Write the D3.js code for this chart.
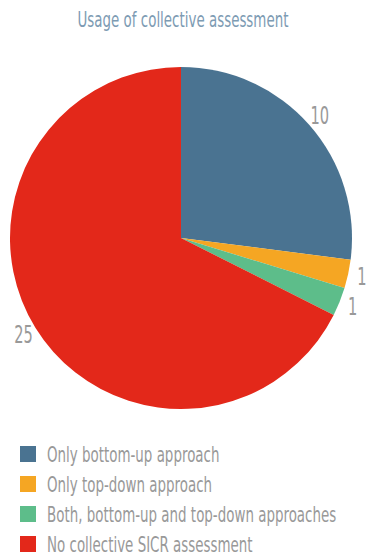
<!DOCTYPE html>
<html>
<head>
<meta charset="utf-8">
<script src="https://cdn.jsdelivr.net/npm/d3@7"></script>
<style>
  body { margin: 0; background: #fff; }
  svg text { font-family: 'DejaVu Sans', sans-serif; }
</style>
</head>
<body>
<div id="chart"></div>
<script>
const title = 'Usage of collective assessment';
const categories = ['Only bottom-up approach', 'Only top-down approach', 'Both, bottom-up and top-down approaches', 'No collective SICR assessment'];
const values = [10, 1, 1, 25];
const colors = ['#4a7391', '#f5a623', '#5dbd8a', '#e3281a'];

const width = 366;
const height = 559;
const cx = 181;
const cy = 238;
const radius = 171;
// the original font is a narrow one, squeeze the text horizontally
const squeeze = 0.61;

const svg = d3.select('#chart').append('svg')
  .attr('width', width)
  .attr('height', height);

svg.append('text')
  .attr('transform', `translate(${width / 2},27) scale(${squeeze},1)`)
  .attr('text-anchor', 'middle')
  .attr('font-size', '22px')
  .attr('fill', '#7d9bb3')
  .text(title);

const pie = d3.pie().sort(null).value(d => d);
const arcs = pie(values);
const arc = d3.arc().innerRadius(0).outerRadius(radius);

const g = svg.append('g').attr('transform', `translate(${cx},${cy})`);

g.selectAll('path')
  .data(arcs)
  .enter()
  .append('path')
  .attr('d', arc)
  .attr('fill', (d, i) => colors[i]);

// value labels just outside the pie
const labelRadius = radius + 14;
g.selectAll('text.value')
  .data(arcs)
  .enter()
  .append('text')
  .attr('class', 'value')
  .attr('font-size', '24px')
  .attr('fill', '#999')
  .attr('dy', '0.35em')
  .attr('text-anchor', 'middle')
  .attr('transform', d => {
    const a = (d.startAngle + d.endAngle) / 2;
    return `translate(${Math.sin(a) * labelRadius},${-Math.cos(a) * labelRadius}) scale(${squeeze},1)`;
  })
  .text(d => d.data);

const legend = svg.append('g').attr('transform', 'translate(20,446)');
const row = legend.selectAll('g')
  .data(categories)
  .enter()
  .append('g')
  .attr('transform', (d, i) => `translate(0,${i * 30})`);

row.append('rect')
  .attr('width', 16)
  .attr('height', 16)
  .attr('fill', (d, i) => colors[i]);

row.append('text')
  .attr('transform', `translate(27,8) scale(${squeeze},1)`)
  .attr('dy', '0.35em')
  .attr('font-size', '22px')
  .attr('fill', '#999')
  .text(d => d);
</script>
</body>
</html>
